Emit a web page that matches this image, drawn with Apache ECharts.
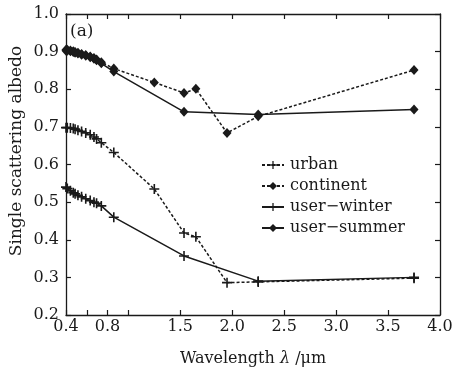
<!DOCTYPE html>
<html><head><meta charset="utf-8">
<script src="https://cdn.jsdelivr.net/npm/echarts@6/dist/echarts.min.js"></script>
<style>html,body{margin:0;padding:0;background:#fff}#c{width:456px;height:371px}</style>
</head><body><div id="c"></div>
<script>
// wavelengths (µm)
const wlFull = [0.4, 0.4125, 0.4425, 0.47, 0.4875, 0.515, 0.55, 0.59, 0.6331, 0.6691, 0.6944, 0.74, 0.86, 1.25, 1.536, 1.65, 1.95, 2.25, 3.75];
const wlUser = [0.4, 0.4125, 0.4425, 0.47, 0.4875, 0.515, 0.55, 0.59, 0.6331, 0.6691, 0.6944, 0.74, 0.86, 1.536, 2.25, 3.75];
// single scattering albedo
const urban = [0.698, 0.698, 0.697, 0.696, 0.694, 0.691, 0.688, 0.684, 0.679, 0.673, 0.668, 0.658, 0.632, 0.535, 0.418, 0.408, 0.286, 0.288, 0.298];
const continent = [0.905, 0.905, 0.903, 0.901, 0.899, 0.897, 0.894, 0.891, 0.887, 0.883, 0.879, 0.872, 0.855, 0.818, 0.790, 0.801, 0.684, 0.728, 0.851];
const userWinter = [0.540, 0.536, 0.530, 0.525, 0.522, 0.518, 0.514, 0.509, 0.504, 0.500, 0.497, 0.490, 0.460, 0.357, 0.290, 0.300];
const userSummer = [0.902, 0.902, 0.901, 0.899, 0.897, 0.895, 0.892, 0.889, 0.885, 0.881, 0.877, 0.869, 0.847, 0.740, 0.733, 0.746];
const seriesNames = ['urban', 'continent', 'user\u2212winter', 'user\u2212summer'];
const xLabelValues = [0.4, 0.8, 1.5, 2.0, 2.5, 3.0, 3.5, 4.0];
const xTickValues = [0.4, 0.6, 0.8, 1.0, 1.5, 2.0, 2.5, 3.0, 3.5, 4.0];

const ink = '#1a1a1a';
const font = 'DejaVu Serif';
const plus = 'path://M4.2,0H5.8V4.2H10V5.8H5.8V10H4.2V5.8H0V4.2H4.2Z';
function pairs(xs, ys){ return xs.map((x,i)=>[x, ys[i]]); }
function mk(name, xs, ys, dashed, sym){
  return {
    name, type:'line', data: pairs(xs, ys),
    symbol: sym, symbolSize: sym === 'diamond' ? [9, 10] : 10,
    showSymbol: true,
    lineStyle:{color: ink, width: 1.5, type: dashed ? [3, 2] : 'solid'},
    itemStyle:{color: ink},
    emphasis:{disabled:true}, animation:false, z: 3
  };
}
const chart = echarts.init(document.getElementById('c'), null, {renderer:'canvas'});
const axLine = {show:true, lineStyle:{color: ink, width: 1.3}};
chart.setOption({
  animation:false,
  grid:{left:66, right:16, top:14, bottom:56, containLabel:false},
  xAxis:[{
    type:'value', min:0.4, max:4.0, position:'bottom',
    axisLine: axLine,
    axisTick:{show:true, inside:true, length:5, customValues: xTickValues, lineStyle:{color: ink, width:1.2}},
    axisLabel:{customValues: xLabelValues, formatter: v => v.toFixed(1), color: ink, fontFamily: font, fontSize: 16, margin: 4},
    splitLine:{show:false}
  },{
    type:'value', min:0.4, max:4.0, position:'top',
    axisLine: axLine,
    axisTick:{show:true, inside:true, length:5, customValues: xTickValues, lineStyle:{color: ink, width:1.2}},
    axisLabel:{show:false}, splitLine:{show:false}
  }],
  yAxis:[{
    type:'value', min:0.2, max:1.0, interval:0.1, position:'left',
    axisLine: axLine,
    axisTick:{show:true, inside:true, length:5, lineStyle:{color: ink, width:1.2}},
    axisLabel:{formatter: v => v.toFixed(1), color: ink, fontFamily: font, fontSize: 16, margin: 7},
    splitLine:{show:false}
  },{
    type:'value', min:0.2, max:1.0, interval:0.1, position:'right',
    axisLine: axLine,
    axisTick:{show:true, inside:true, length:5, lineStyle:{color: ink, width:1.2}},
    axisLabel:{show:false}, splitLine:{show:false}
  }],
  legend:{
    orient:'vertical', left:256, top:152, itemGap:5, itemWidth:22, itemHeight:10,
    data: seriesNames,
    textStyle:{color: ink, fontFamily: font, fontSize: 16, padding:[0,0,0,1]},
    selectedMode:false
  },
  series:[
    mk(seriesNames[0], wlFull, urban, true, plus),
    mk(seriesNames[1], wlFull, continent, true, 'diamond'),
    mk(seriesNames[2], wlUser, userWinter, false, plus),
    mk(seriesNames[3], wlUser, userSummer, false, 'diamond')
  ],
  graphic:[
    {type:'text', left:70, top:23, style:{text:'(a)', fill: ink, font:'17px "DejaVu Serif"'}},
    {type:'text', x:17, y:151, rotation: Math.PI/2,
     style:{text:'Single scattering albedo', fill: ink, font:'17px "DejaVu Serif"', align:'center', verticalAlign:'middle'}},
    {type:'text', x:253, y:359,
     style:{text:'{n|Wavelength }{l|\u03bb}{n| /\u03bcm}', align:'center', verticalAlign:'middle',
       rich:{n:{fill: ink, fontFamily: font, fontSize:16}, l:{fill: ink, fontFamily: font, fontSize:16, fontStyle:'italic'}}}}
  ]
});
</script></body></html>
